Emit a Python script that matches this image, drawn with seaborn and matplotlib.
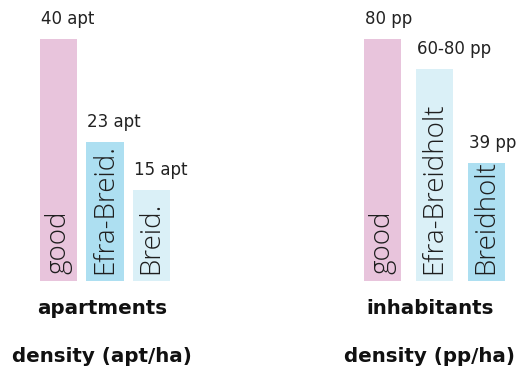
import matplotlib
matplotlib.use("Agg")
import matplotlib.pyplot as plt
import seaborn as sns
import pandas as pd

# Apartment density (apt/ha)
apt_names = ["good", "Efra-Breid.", "Breid."]
apt_low = [40, 23, 15]
apt_high = [40, 23, 15]
apt_colors = ["#E8C4DC", "#ADDFF1", "#DAF0F7"]

# Inhabitant density (pp/ha)
pp_names = ["good", "Efra-Breidholt", "Breidholt"]
pp_low = [80, 60, 39]
pp_high = [80, 80, 39]
pp_colors = ["#E8C4DC", "#DAF0F7", "#ADDFF1"]

panel_titles = ["apartments", "inhabitants"]
panel_units = ["apt", "pp"]
panel_axis_titles = ["density (apt/ha)", "density (pp/ha)"]

sns.set_theme(style="white")
plt.rcParams["font.family"] = ["DejaVu Sans"]

W, H = 518, 372
fig = plt.figure(figsize=(W / 100, H / 100), dpi=100)
fig.patch.set_facecolor("white")


def px_axes(left, bottom_from_top, width, height):
    return fig.add_axes([left / W, (H - bottom_from_top) / H, width / W, height / H])


def range_label(lo, hi, unit):
    if lo == hi:
        return f"{lo:g} {unit}"
    return f"{lo:g}-{hi:g} {unit}"


panels = [
    (apt_names, apt_low, apt_high, apt_colors, px_axes(35.25, 281, 139.5, 242), 0.8),
    (pp_names, pp_low, pp_high, pp_colors, px_axes(356.5, 281, 156, 242), 0.71),
]

for i, (names, lo, hi, colors, ax, bw) in enumerate(panels):
    heights = [(a + b) / 2 for a, b in zip(lo, hi)]
    df = pd.DataFrame({"name": names, "value": heights})
    sns.barplot(data=df, x="name", y="value", hue="name", palette=colors,
                width=bw, legend=False, ax=ax, saturation=1, linewidth=0)
    ax.set_xlim(-0.5, 2.5)
    ax.set_ylim(0, max(hi))
    ax.axis("off")

    for j, (name, h) in enumerate(zip(names, heights)):
        # value label above the bar, aligned with its left edge
        ax.annotate(range_label(lo[j], hi[j], panel_units[i]),
                    xy=(j - bw / 2, h), xytext=(0.5, 8), textcoords="offset points",
                    ha="left", va="bottom", fontsize=12, color="#222222")
        # category name written up the bar
        ax.annotate(name, xy=(j, 0), xytext=(0, 5), textcoords="offset points",
                    rotation=90, ha="center", va="bottom", fontsize=20,
                    family=["Open Sans", "DejaVu Sans"], fontweight="light",
                    color="#1e1e1e")

centers = [102, 430]
for c, t, a in zip(centers, panel_titles, panel_axis_titles):
    fig.text(c / W, 1 - 308 / H, t, ha="center", va="center",
             fontsize=14.3, fontweight="bold", color="#111111")
    fig.text(c / W, 1 - 357 / H, a, ha="center", va="center",
             fontsize=14.3, fontweight="bold", color="#111111")

fig.savefig("out.png", dpi=100, facecolor="white")
